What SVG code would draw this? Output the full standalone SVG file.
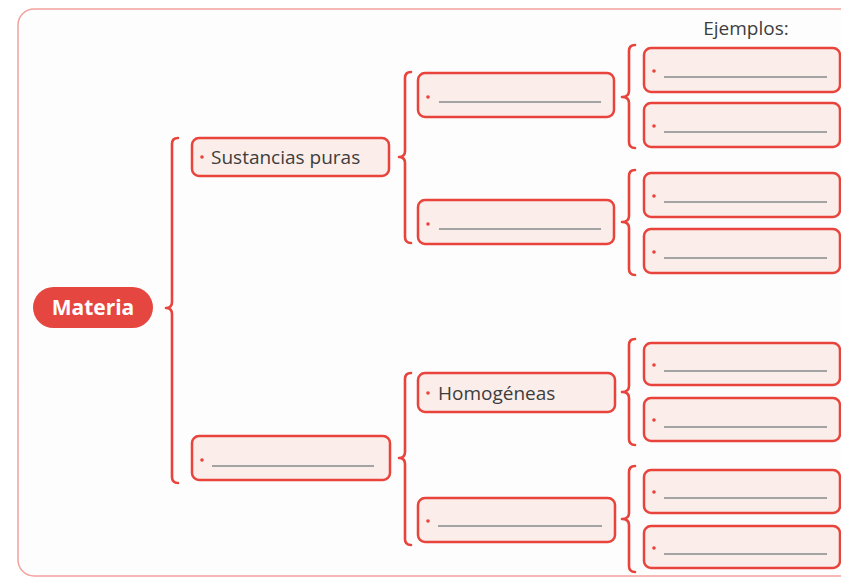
<svg xmlns="http://www.w3.org/2000/svg" width="841" height="580" viewBox="0 0 841 580">
  <defs>
    <style>
      .frame { fill: #fdfdfd; stroke: #f4a19c; stroke-width: 1.5; }
      .box { fill: #fbede9; stroke: #e8443c; stroke-width: 2.5; }
      .brace { fill: none; stroke: #e8443c; stroke-width: 2.6; stroke-linecap: round; stroke-linejoin: round; }
      .blank { stroke: #a3a3a3; stroke-width: 2; }
      .dot { fill: #e8443c; }
      .label { font-family: "Open Sans", "Noto Sans", sans-serif; font-size: 19px; fill: #3d3d3d; }
      .root { font-family: "Open Sans", "Liberation Sans", sans-serif; font-size: 21px; font-weight: bold; fill: #ffffff; }
    </style>
  </defs>

  <rect width="841" height="580" fill="#ffffff"/>
  <rect class="frame" x="18" y="9" width="840" height="567" rx="16"/>

  <text class="label" x="746" y="35" text-anchor="middle">Ejemplos:</text>

  <!-- braces -->
  <g id="connectors">
    <path class="brace" d="M178,138 Q172,138 172,144 L172,302 Q172,308 166,308 Q172,308 172,314 L172,477 Q172,483 178,483"/>
    <path class="brace" d="M411,72 Q405,72 405,78 L405,151 Q405,157 399,157 Q405,157 405,163 L405,237 Q405,243 411,243"/>
    <path class="brace" d="M411,373 Q405,373 405,379 L405,452 Q405,458 399,458 Q405,458 405,464 L405,539 Q405,545 411,545"/>
    <path class="brace" d="M635,45 Q629,45 629,51 L629,91 Q629,97 622,97 Q629,97 629,103 L629,142 Q629,148 635,148"/>
    <path class="brace" d="M635,170 Q629,170 629,176 L629,216 Q629,222 622,222 Q629,222 629,228 L629,269 Q629,275 635,275"/>
    <path class="brace" d="M635,339 Q629,339 629,345 L629,386 Q629,392 622,392 Q629,392 629,398 L629,439 Q629,445 635,445"/>
    <path class="brace" d="M635,466 Q629,466 629,472 L629,513 Q629,519 622,519 Q629,519 629,525 L629,566 Q629,572 635,572"/>
  </g>

  <!-- root -->
  <g id="materia">
    <rect x="33" y="287" width="120" height="41" rx="20.5" fill="#e5463f"/>
    <text class="root" x="93" y="315" text-anchor="middle">Materia</text>
  </g>

  <!-- level 1 -->
  <g id="sustancias-puras">
    <rect class="box" x="192" y="138" width="197" height="38" rx="7"/>
    <circle class="dot" cx="202" cy="157" r="1.8"/>
    <text class="label" x="211" y="164">Sustancias puras</text>
  </g>
  <g id="mezclas">
    <rect class="box" x="192" y="436" width="198" height="44" rx="7"/>
    <circle class="dot" cx="202" cy="460" r="1.8"/>
    <line class="blank" x1="212" y1="466" x2="374" y2="466"/>
  </g>

  <!-- level 2 -->
  <g id="puras-a">
    <rect class="box" x="418" y="73" width="196" height="44" rx="7"/>
    <circle class="dot" cx="428" cy="97" r="1.8"/>
    <line class="blank" x1="439" y1="102" x2="601" y2="102"/>
  </g>
  <g id="puras-b">
    <rect class="box" x="418" y="200" width="196" height="44" rx="7"/>
    <circle class="dot" cx="428" cy="224" r="1.8"/>
    <line class="blank" x1="439" y1="229" x2="601" y2="229"/>
  </g>
  <g id="homogeneas">
    <rect class="box" x="418" y="373" width="197" height="39" rx="7"/>
    <circle class="dot" cx="428" cy="393" r="1.8"/>
    <text class="label" x="438" y="400">Homogéneas</text>
  </g>
  <g id="mezcla-b">
    <rect class="box" x="418" y="498" width="197" height="44" rx="7"/>
    <circle class="dot" cx="428" cy="521" r="1.8"/>
    <line class="blank" x1="438" y1="526" x2="602" y2="526"/>
  </g>

  <!-- examples -->
  <g id="ejemplo-1">
    <rect class="box" x="644" y="48" width="196" height="44" rx="7"/>
    <circle class="dot" cx="654" cy="71" r="1.8"/>
    <line class="blank" x1="664" y1="77" x2="827" y2="77"/>
  </g>
  <g id="ejemplo-2">
    <rect class="box" x="644" y="103" width="196" height="44" rx="7"/>
    <circle class="dot" cx="654" cy="126" r="1.8"/>
    <line class="blank" x1="664" y1="132" x2="827" y2="132"/>
  </g>
  <g id="ejemplo-3">
    <rect class="box" x="644" y="173" width="196" height="44" rx="7"/>
    <circle class="dot" cx="654" cy="196" r="1.8"/>
    <line class="blank" x1="664" y1="202" x2="827" y2="202"/>
  </g>
  <g id="ejemplo-4">
    <rect class="box" x="644" y="229" width="196" height="44" rx="7"/>
    <circle class="dot" cx="654" cy="252" r="1.8"/>
    <line class="blank" x1="664" y1="258" x2="827" y2="258"/>
  </g>
  <g id="ejemplo-5">
    <rect class="box" x="644" y="343" width="196" height="42" rx="7"/>
    <circle class="dot" cx="654" cy="365" r="1.8"/>
    <line class="blank" x1="664" y1="371" x2="827" y2="371"/>
  </g>
  <g id="ejemplo-6">
    <rect class="box" x="644" y="398" width="196" height="43" rx="7"/>
    <circle class="dot" cx="654" cy="420" r="1.8"/>
    <line class="blank" x1="664" y1="427" x2="827" y2="427"/>
  </g>
  <g id="ejemplo-7">
    <rect class="box" x="644" y="470" width="196" height="43" rx="7"/>
    <circle class="dot" cx="654" cy="492" r="1.8"/>
    <line class="blank" x1="664" y1="498" x2="827" y2="498"/>
  </g>
  <g id="ejemplo-8">
    <rect class="box" x="644" y="526" width="196" height="42" rx="7"/>
    <circle class="dot" cx="654" cy="548" r="1.8"/>
    <line class="blank" x1="664" y1="554" x2="827" y2="554"/>
  </g>
</svg>
